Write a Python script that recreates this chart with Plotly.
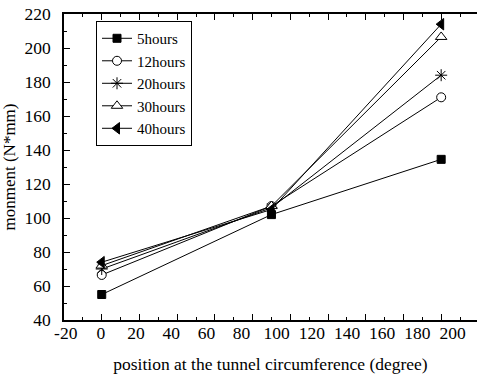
import plotly.graph_objects as go

# Angular positions around the tunnel lining (degree)
positions = [0, 90, 180]

# Bending moment at each position for each elapsed time (N*mm)
moment_5h = [55.0, 102.0, 134.5]
moment_12h = [66.5, 107.0, 171.0]
moment_20h = [70.0, 106.0, 184.0]
moment_30h = [72.0, 107.0, 206.5]
moment_40h = [74.0, 105.0, 214.0]

series_names = ["5hours", "12hours", "20hours", "30hours", "40hours"]

x_tick_values = [-20, 0, 20, 40, 60, 80, 100, 120, 140, 160, 180, 200]
y_tick_values = [40, 60, 80, 100, 120, 140, 160, 180, 200, 220]

FONT = "'Times New Roman', 'Liberation Serif', 'DejaVu Serif', serif"
AXIS_FONT = dict(family=FONT, size=17.5, color="black")

series = [
    (series_names[0], moment_5h, dict(symbol="square", size=8, color="black",
                                        line=dict(color="black", width=1))),
    (series_names[1], moment_12h, dict(symbol="circle", size=9, color="white",
                                         line=dict(color="black", width=1))),
    (series_names[2], moment_20h, dict(symbol="asterisk-open", size=10, color="black",
                                         line=dict(color="black", width=1))),
    (series_names[3], moment_30h, dict(symbol="triangle-up", size=10, color="white",
                                         line=dict(color="black", width=1))),
    (series_names[4], moment_40h, dict(symbol="triangle-left", size=10, color="black",
                                         line=dict(color="black", width=1))),
]

fig = go.Figure()
for name, values, marker in series:
    fig.add_trace(go.Scatter(
        x=positions, y=values, name=name, mode="lines+markers",
        line=dict(color="black", width=1), marker=marker,
    ))

# Label-only companion axis carrying the x tick labels
fig.add_trace(go.Scatter(x=[], y=[], xaxis="x2", showlegend=False, hoverinfo="skip"))

fig.update_layout(
    width=477, height=378,
    margin=dict(l=64, r=0, t=14, b=58),
    paper_bgcolor="white", plot_bgcolor="white",
    font=dict(family=FONT, size=16, color="black"),
    showlegend=True,
    legend=dict(
        x=0.0775, y=0.977, xanchor="left", yanchor="top",
        bordercolor="black", borderwidth=1, bgcolor="white",
        font=dict(family=FONT, size=15, color="black"),
        tracegroupgap=0, itemwidth=30,
    ),
    xaxis=dict(
        range=[-20, 199], domain=[0, 1],
        showline=True, linecolor="black", linewidth=1.5, mirror="ticks",
        ticks="inside", ticklen=6, tickwidth=1, tickcolor="black",
        tick0=0, dtick=20, showticklabels=False,
        minor=dict(ticks="inside", ticklen=3, tickwidth=1, tickcolor="black", dtick=10),
        showgrid=False, zeroline=False,
    ),
    xaxis2=dict(
        overlaying="x", anchor="y", side="bottom",
        range=[-21.0, 213.9],
        showline=False, ticks="", showgrid=False, zeroline=False,
        tickmode="array", tickvals=x_tick_values,
        ticktext=[str(v) for v in x_tick_values],
        tickfont=AXIS_FONT,
        title=dict(text="position at the tunnel circumference (degree)",
                   font=AXIS_FONT, standoff=16),
    ),
    yaxis=dict(
        range=[40, 220],
        showline=True, linecolor="black", linewidth=1.5,
        ticks="inside", ticklen=6, tickwidth=1, tickcolor="black",
        tickmode="array", tickvals=y_tick_values,
        ticktext=[str(v) for v in y_tick_values],
        minor=dict(ticks="inside", ticklen=3, tickwidth=1, tickcolor="black", dtick=10),
        tickfont=AXIS_FONT,
        ticklabelstandoff=8,
        showgrid=False, zeroline=False,
        title=dict(text="monment (N*mm)", font=dict(family=FONT, size=17, color="black"),
                   standoff=6),
    ),
)

fig.write_html("out.html")
